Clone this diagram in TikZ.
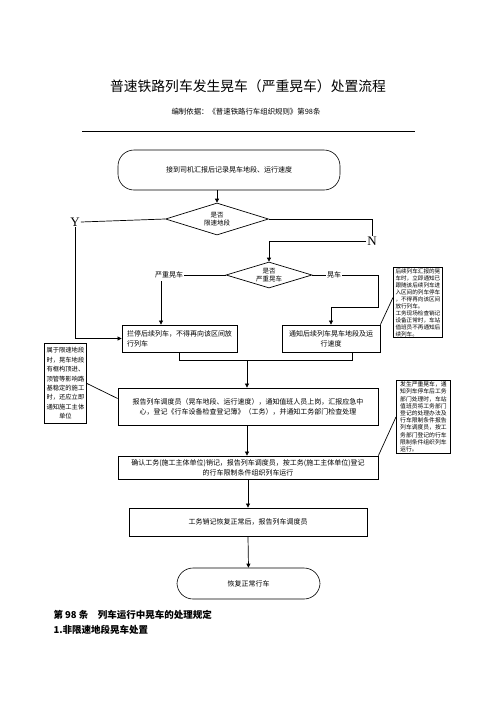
\documentclass[tikz,border=0pt]{standalone}
\usepackage{fontspec}
\newfontfamily\cjk{Noto Sans CJK SC}
\newfontfamily\latin{Liberation Serif}
\XeTeXlinebreaklocale "zh"
\XeTeXlinebreakskip=0pt plus 1pt
\usetikzlibrary{arrows.meta, positioning, shapes.geometric, calc}

\tikzset{
  line/.style={line width=0.7pt},
  arr/.style={line width=0.7pt, -{Triangle[length=4pt,width=4pt]}},
  stepbox/.style={draw, line width=0.8pt, inner sep=2pt, font=\cjk\fontsize{7}{10}\selectfont},
  termbox/.style={draw, line width=0.6pt, rounded corners=16pt, font=\cjk\fontsize{7}{9}\selectfont},
  ask/.style={diamond, draw, line width=0.7pt, aspect=3.2, inner sep=0pt, font=\cjk\fontsize{6.5}{8.5}\selectfont, align=center},
  notebox/.style={draw, line width=0.8pt, inner sep=1pt, anchor=north west, align=left}
}

\begin{document}
\begin{tikzpicture}[x=1pt, y=-1pt]
\path[use as bounding box, fill=white] (0,0) rectangle (496,702);

% title
\node[font=\cjk\fontsize{13.8}{16}\selectfont] (title) at (248,86) {普速铁路列车发生晃车（严重晃车）处置流程};
\node[font=\cjk\fontsize{7.4}{9}\selectfont] (basis) at (246,112) {编制依据：《普速铁路行车组织规则》第98条};
\draw[line width=0.8pt] (82,131) -- (415,131);

% flow
\node[termbox, minimum width=222pt, minimum height=40pt] (start) at (229,170) {接到司机汇报后记录晃车地段、运行速度};
\node[ask, minimum width=103pt, minimum height=32pt] (limit) at (217,219) {是否\\限速地段};
\node[font=\latin\fontsize{13}{13}\selectfont, inner sep=1pt] (yes) at (75,222) {Y};
\node[font=\latin\fontsize{13}{13}\selectfont, inner sep=1pt] (no) at (372,241) {N};
\node[ask, minimum width=86pt, minimum height=26pt] (severe) at (269,275) {是否\\严重晃车};
\node[font=\cjk\fontsize{7}{9}\selectfont, inner sep=1pt] (sevlab) at (169,275) {严重晃车};
\node[font=\cjk\fontsize{7}{9}\selectfont, inner sep=1pt] (mildlab) at (334,275) {晃车};
\coordinate (sevturn) at (161,281);
\coordinate (mildturn) at (378,307);

\node[stepbox, minimum width=115pt, minimum height=27pt, align=left] (stop) at (179.5,338.5) {拦停后续列车，不得再向该区间放\\行列车};
\node[stepbox, minimum width=98pt, minimum height=27pt, align=center] (inform) at (331,338.5) {通知后续列车晃车地段及运\\行速度};
\coordinate (merge) at (247,360);

\node[stepbox, minimum width=260pt, minimum height=37pt, align=center] (report) at (248,406.5) {报告列车调度员（晃车地段、运行速度），通知值班人员上岗，汇报应急中\\心，登记《行车设备检查登记簿》（工务），并通知工务部门检查处理};
\node[stepbox, minimum width=260pt, minimum height=23pt, align=center] (confirm) at (248,467.5) {确认工务(施工主体单位)销记，报告列车调度员，按工务(施工主体单位)登记\\的行车限制条件组织列车运行};
\node[stepbox, minimum width=238pt, minimum height=28pt] (cleared) at (248,522) {工务销记恢复正常后，报告列车调度员};
\node[termbox, minimum width=143pt, minimum height=31pt] (resume) at (248.5,583.5) {恢复正常行车};

% notes
\node[notebox, minimum width=49pt, minimum height=70pt, font=\cjk\fontsize{5.6}{7}\selectfont] (note1) at (393,267) {后续列车汇报的晃\\车时，立即通知已\\跟随该后续列车进\\入区间的列车停车\\，不得再向该区间\\放行列车。\\工务现场检查销记\\设备正常时，车站\\值班员不再通知后\\续列车。};
\node[notebox, minimum width=42pt, minimum height=80pt, align=center, font=\cjk\fontsize{6.3}{9.4}\selectfont] (note3) at (44,343) {属于限速地段\\时，晃车地段\\有框构顶进、\\顶管等影响路\\基稳定的施工\\时，还应立即\\通知施工主体\\单位};
\node[notebox, minimum width=54pt, minimum height=73pt, font=\cjk\fontsize{5.8}{7.2}\selectfont] (note2) at (396,380) {发生严重晃车，通\\知列车停车后工务\\部门处理时，车站\\值班员将工务部门\\登记的处理办法及\\行车限制条件报告\\列车调度员，按工\\务部门登记的行车\\限制条件组织列车\\运行。};

% connectors
\draw[arr] (limit.north |- start.south) -- (limit.north);
\draw[line] (limit.west) -- (yes.east);
\draw[arr] (yes.south) |- (stop.west);
\draw[line] (limit.east) -| (no.north);
\draw[arr] (no.west) -| (severe.north);
\draw[line] (severe.west) -- (sevlab.east);
\draw[arr] (sevturn) -- (sevturn |- stop.north);
\draw[line] (severe.east) -- (mildlab.west);
\draw[arr] (mildlab.east) -| (mildturn) -| (inform.north);
\draw[line] (stop.south) |- (merge);
\draw[line] ([xshift=21pt]inform.south) |- (merge);
\draw[arr] (merge) -- (merge |- report.north);
\draw[arr] (report.south -| merge) -- (confirm.north -| merge);
\draw[arr] (confirm.south) -- (cleared.north);
\draw[arr] (cleared.south) -- (resume.north);
\draw[line] (inform.north east) -- ([yshift=5pt]note1.west);
\draw[line] (note3.east) -- ([yshift=8pt]report.west);
\draw[line] (confirm.north east) -- (note2.west);

% text below
\node[anchor=west, font=\cjk\bfseries\fontsize{9.5}{11}\selectfont] (art) at (50,615) {第 98 条\quad 列车运行中晃车的处理规定};
\node[anchor=west, font=\cjk\bfseries\fontsize{9.5}{11}\selectfont] (item) at (50,630) {1.非限速地段晃车处置};
\end{tikzpicture}
\end{document}
